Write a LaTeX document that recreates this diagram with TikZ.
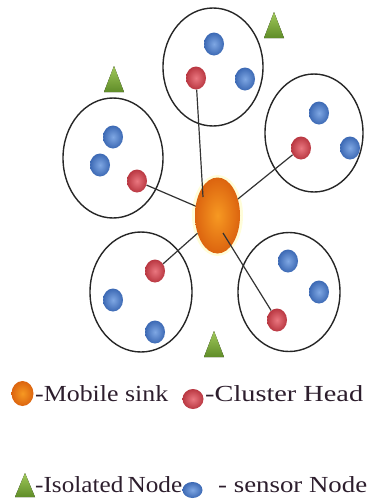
\documentclass[tikz,border=0pt]{standalone}
\usepackage{fontspec}
\setmainfont{Liberation Serif}
\usetikzlibrary{shapes.geometric,calc}
\definecolor{dotblue}{RGB}{95,145,220}
\definecolor{dotbluedk}{RGB}{60,105,180}
\definecolor{dotred}{RGB}{230,95,105}
\definecolor{dotreddk}{RGB}{185,55,65}
\definecolor{sinkor}{RGB}{245,135,40}
\definecolor{sinkdk}{RGB}{220,100,15}
\definecolor{trigl}{RGB}{160,200,90}
\definecolor{trigd}{RGB}{95,140,40}
\definecolor{txt}{RGB}{45,30,45}
\newcommand{\legtxt}[2]{\resizebox{#1}{\height}{#2}}
\begin{document}
\begin{tikzpicture}[x=1pt,y=-1pt,
  clus/.style={ellipse,draw=black!85,line width=1.4pt,inner sep=0pt},
  bdot/.style={ellipse,inner sep=0pt,minimum width=20pt,minimum height=23pt,shading=radial,inner color=dotblue!80!white,outer color=dotbluedk},
  rdot/.style={ellipse,inner sep=0pt,minimum width=20pt,minimum height=23pt,shading=radial,inner color=dotred!85!white,outer color=dotreddk},
  sink/.style={ellipse,inner sep=0pt,shading=radial,inner color=sinkor!85!yellow,outer color=sinkdk},
  link/.style={draw=black!80,line width=1.2pt},
  tri/.style={top color=trigl,bottom color=trigd},
  legend/.style={anchor=base west,inner sep=0pt,text=txt,font=\fontsize{23}{28}\selectfont}]
\useasboundingbox (0,0) rectangle (368,504);
% clusters
\node[clus,minimum width=100pt,minimum height=118pt] (ct) at (213,67) {};
\node[clus,minimum width=98pt,minimum height=118pt] (cr) at (314,133) {};
\node[clus,minimum width=100pt,minimum height=120pt] (cl) at (113,158) {};
\node[clus,minimum width=102pt,minimum height=120pt] (cbl) at (141,292) {};
\node[clus,minimum width=102pt,minimum height=119pt] (cbr) at (289,292) {};
% sink
\node[ellipse,inner sep=0pt,minimum width=51pt,minimum height=81pt,fill=yellow!30,opacity=0.5] at (217.5,215.5) {};
\node[sink,minimum width=45pt,minimum height=76pt] (sink) at (217.5,215.5) {};
\coordinate (sinktop) at (203,197);
\coordinate (sinkbr) at (223,233);
% nodes
\node[bdot] (t1) at (214,44) {};
\node[rdot] (th) at (196,78) {};
\node[bdot] (t2) at (245,79) {};
\node[bdot] (r1) at (319,113) {};
\node[rdot] (rh) at (301,148) {};
\node[bdot] (r2) at (350,148) {};
\node[bdot] (l1) at (113,137) {};
\node[bdot] (l2) at (100,165) {};
\node[rdot] (lh) at (137,181) {};
\node[rdot] (blh) at (155,271) {};
\node[bdot] (bl1) at (113,300) {};
\node[bdot] (bl2) at (155,332) {};
\node[bdot] (br1) at (288,261) {};
\node[bdot] (br2) at (319,292) {};
\node[rdot] (brh) at (277,320) {};
% links
\draw[link] (th) -- (sinktop);
\draw[link] (rh) -- (sink);
\draw[link] (lh) -- (sink);
\draw[link] (blh) -- (sink);
\draw[link] (sinkbr) -- (brh);
% isolated nodes
\coordinate (i1) at (274,25);
\coordinate (i2) at (114,79);
\coordinate (i3) at (214,344);
\foreach \c in {i1,i2,i3}{
  \fill[tri] (\c) ++(-10,13) -- ++(20,0) -- ++(-10,-26) -- cycle;
}
% legend
\node[sink,minimum width=22pt,minimum height=25pt] (lsink) at (22.5,393.5) {};
\node[legend] (tsink) at (35,401) {\legtxt{133pt}{-Mobile sink}};
\node[rdot,minimum width=21pt,minimum height=20pt] (lred) at (193,399) {};
\node[legend] (tred) at (205,401) {\legtxt{158pt}{-Cluster Head}};
\coordinate (ltri) at (25,485);
\fill[tri] (ltri) ++(-10,12) -- ++(20,0) -- ++(-10,-24) -- cycle;
\node[legend] (ttri) at (35,492) {\legtxt{147pt}{-Isolated\,Node}};
\node[bdot,minimum width=20pt,minimum height=16pt] (lblue) at (192.5,490) {};
\node[legend] (tblue) at (218,492) {\legtxt{149pt}{- sensor Node}};
\end{tikzpicture}
\end{document}
